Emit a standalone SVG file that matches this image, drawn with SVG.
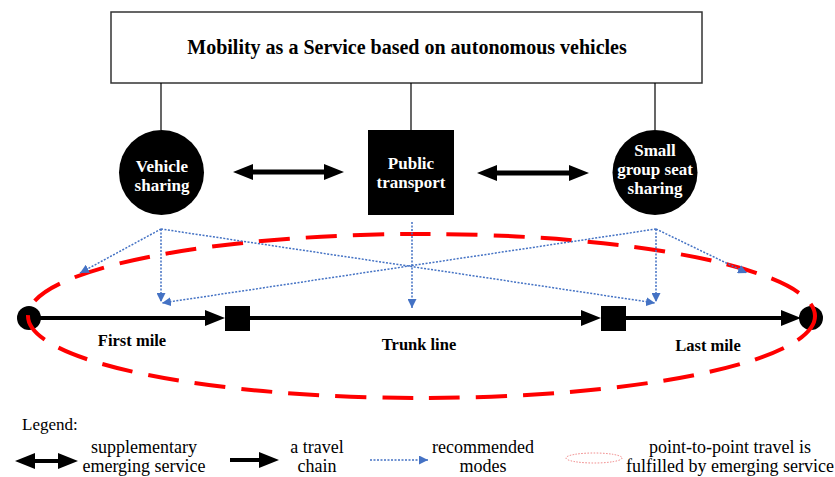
<svg xmlns="http://www.w3.org/2000/svg" width="835" height="477" viewBox="0 0 835 477" font-family="'Liberation Serif', 'Times New Roman', serif">
  <style>
    text { font-family: 'Liberation Serif', 'Times New Roman', serif; }
    .title { font-size: 20px; font-weight: bold; fill: #000; text-anchor: middle; }
    .node-text { font-size: 17px; font-weight: bold; fill: #fff; text-anchor: middle; }
    .seg-label { font-size: 16.5px; font-weight: bold; fill: #000; text-anchor: middle; }
    .legend-text { font-size: 18px; fill: #000; text-anchor: middle; }
    .tree { stroke: #000; stroke-width: 1.2; fill: none; }
    .double { stroke: #000; stroke-width: 5; fill: none; marker-start: url(#headBig); marker-end: url(#headBig); }
    .chain { stroke: #000; stroke-width: 4; fill: none; marker-end: url(#headBig); }
    .rec { stroke: #4472C4; stroke-width: 1.5; stroke-dasharray: 2 1.5; fill: none; marker-end: url(#headBlue); }
  </style>
  <defs>
    <marker id="headBig" markerUnits="userSpaceOnUse" viewBox="0 0 20 16" markerWidth="20" markerHeight="16" refX="0" refY="8" orient="auto-start-reverse">
      <path d="M0,0 L20,8 L0,16 Z" fill="#000"/>
    </marker>
    <marker id="headBlue" markerUnits="userSpaceOnUse" viewBox="0 0 9 9" markerWidth="9" markerHeight="9" refX="9" refY="4.5" orient="auto">
      <path d="M0,0 L9,4.5 L0,9 Z" fill="#4472C4"/>
    </marker>
  </defs>

  <g id="maas">
    <rect x="111" y="12" width="591" height="71" fill="#fff" stroke="#333" stroke-width="1.5"/>
    <text class="title" x="407" y="54">Mobility as a Service based on autonomous vehicles</text>
  </g>

  <g id="connectors">
    <line class="tree" x1="161" y1="83" x2="161" y2="130"/>
    <line class="tree" x1="411" y1="83" x2="411" y2="130"/>
    <line class="tree" x1="655" y1="83" x2="655" y2="130"/>
    <line class="double" x1="253" y1="172" x2="324" y2="172"/>
    <line class="double" x1="497" y1="173" x2="569" y2="173"/>
    <line class="chain" x1="29" y1="318" x2="205" y2="318"/>
    <line class="chain" x1="250" y1="318" x2="581" y2="318"/>
    <line class="chain" x1="626" y1="318" x2="781" y2="318"/>
  </g>

  <g id="vehicle-sharing">
    <circle cx="161.5" cy="172.5" r="42.5" fill="#000"/>
    <text class="node-text" x="162" y="172">Vehicle</text>
    <text class="node-text" x="162" y="191">sharing</text>
  </g>
  <g id="public-transport">
    <rect x="368" y="130" width="86" height="85" fill="#000"/>
    <text class="node-text" x="411" y="169">Public</text>
    <text class="node-text" x="411" y="188">transport</text>
  </g>
  <g id="small-group">
    <circle cx="655" cy="172.5" r="42.5" fill="#000"/>
    <text class="node-text" x="655" y="156">Small</text>
    <text class="node-text" x="655" y="175">group seat</text>
    <text class="node-text" x="655" y="194">sharing</text>
  </g>

  <g id="origin"><circle cx="29" cy="318" r="12" fill="#000"/></g>
  <g id="transfer-1"><rect x="225" y="306" width="25" height="25" fill="#000"/></g>
  <g id="transfer-2"><rect x="601" y="306" width="25" height="25" fill="#000"/></g>
  <g id="destination"><circle cx="811" cy="318" r="12" fill="#000"/></g>

  <g id="segment-labels">
    <text class="seg-label" x="132" y="346">First mile</text>
    <text class="seg-label" x="419" y="350">Trunk line</text>
    <text class="seg-label" x="708" y="351">Last mile</text>
  </g>

  <g id="p2p">
    <ellipse cx="421.5" cy="316" rx="393.5" ry="82" fill="none" stroke="#FF0000" stroke-width="4" stroke-dasharray="31 16"/>
  </g>

  <g id="recommended">
    <line class="rec" x1="412" y1="222" x2="412" y2="308"/>
    <line class="rec" x1="161" y1="229" x2="80" y2="273"/>
    <line class="rec" x1="161" y1="229" x2="161" y2="302"/>
    <line class="rec" x1="161" y1="229" x2="655" y2="303"/>
    <line class="rec" x1="656" y1="229" x2="747" y2="273"/>
    <line class="rec" x1="656" y1="229" x2="656" y2="302"/>
    <line class="rec" x1="656" y1="229" x2="162" y2="303"/>
  </g>

  <g id="legend">
    <text x="22" y="430" font-size="17">Legend:</text>
    <line class="double" x1="35" y1="461" x2="58" y2="461" style="stroke-width:4"/>
    <text class="legend-text" x="144" y="453">supplementary</text>
    <text class="legend-text" x="144" y="472">emerging service</text>
    <line class="chain" x1="230" y1="460" x2="259" y2="460"/>
    <text class="legend-text" x="317" y="453">a travel</text>
    <text class="legend-text" x="317" y="472">chain</text>
    <line class="rec" x1="370" y1="460" x2="428" y2="460"/>
    <text class="legend-text" x="483" y="453">recommended</text>
    <text class="legend-text" x="483" y="472">modes</text>
    <ellipse cx="594" cy="458" rx="28" ry="5" fill="none" stroke="#F08080" stroke-width="1" stroke-dasharray="1.5 1.5"/>
    <text class="legend-text" x="730" y="453">point-to-point travel is</text>
    <text class="legend-text" x="730" y="472">fulfilled by emerging service</text>
  </g>
</svg>
